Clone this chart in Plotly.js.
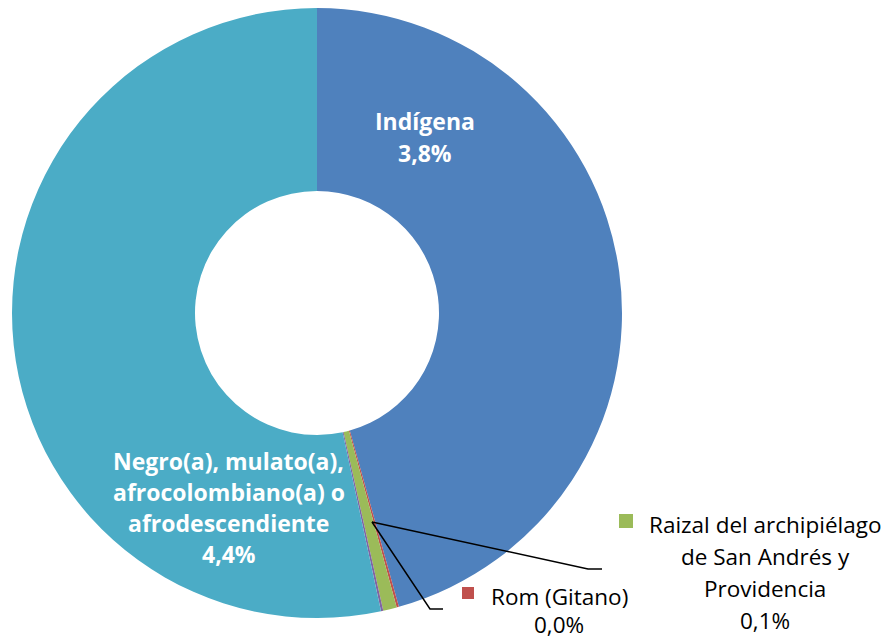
<!DOCTYPE html>
<html>
<head>
<meta charset="utf-8">
<script src="https://cdn.plot.ly/plotly-3.0.1.min.js"></script>
<style>html,body{margin:0;padding:0;background:#fff;}#chart{width:888px;height:639px;}</style>
</head>
<body>
<div id="chart"></div>
<script>
// Data (percent of population), clockwise from 12 o'clock
var categories = ["Indígena", "Rom (Gitano)", "Raizal del archipiélago de San Andrés y Providencia", "Palenquero de San Basilio", "Negro(a), mulato(a), afrocolombiano(a) o afrodescendiente"];
var values = [3.8, 0.01, 0.06, 0.01, 4.44];
var valueLabels = ["3,8%", "0,0%", "0,1%", "0,0%", "4,4%"];
var colors = ["#4F81BD", "#C0504D", "#9BBB59", "#8064A2", "#4BACC6"];

var W = 888, H = 639;
function X(p){ return p / W; }
function Y(p){ return 1 - p / H; }

var font = "'Open Sans', 'Noto Sans', sans-serif";

var trace = {
  type: "pie",
  labels: categories,
  values: values,
  sort: false,
  direction: "clockwise",
  rotation: 0,
  hole: 0.4,
  textinfo: "none",
  hoverinfo: "label+percent",
  marker: { colors: colors, line: { width: 0 } },
  domain: { x: [X(12), X(622)], y: [Y(618), Y(8)] },
  showlegend: false
};

function ann(text, px, py, opts) {
  opts = opts || {};
  return {
    text: text, xref: "paper", yref: "paper", x: X(px), y: Y(py),
    xanchor: opts.xanchor || "center", yanchor: "middle", showarrow: false,
    font: { family: font, size: opts.size || 22.5, color: opts.color || "#000000", weight: opts.bold ? 700 : 400 }
  };
}

var B = {color: "#FFFFFF", bold: true, size: 23};
var annotations = [
  ann("<b>" + categories[0] + "</b>", 425, 121, B),
  ann("<b>" + valueLabels[0] + "</b>", 425, 153, B),
  ann("<b>Negro(a), mulato(a),</b>", 229, 461, B),
  ann("<b>afrocolombiano(a) o</b>", 229, 492, B),
  ann("<b>afrodescendiente</b>", 229, 523, B),
  ann("<b>" + valueLabels[4] + "</b>", 229, 554, B),
  ann("Rom (Gitano)", 489, 596, {xanchor: "left"}),
  ann(valueLabels[1], 559, 624),
  ann("Raizal del archipiélago", 647, 524, {xanchor: "left"}),
  ann("de San Andrés y", 765, 556),
  ann("Providencia", 765, 588),
  ann(valueLabels[2], 765, 620)
];

var shapes = [
  // leader lines
  { type: "path", xref: "paper", yref: "paper",
    path: "M " + X(372) + " " + Y(522) + " L " + X(588) + " " + Y(569) + " L " + X(602) + " " + Y(569),
    line: { color: "#000000", width: 1.5 } },
  { type: "path", xref: "paper", yref: "paper",
    path: "M " + X(372) + " " + Y(522) + " L " + X(430) + " " + Y(609) + " L " + X(443) + " " + Y(609),
    line: { color: "#000000", width: 1.5 } },
  // legend-like squares
  { type: "rect", xref: "paper", yref: "paper", x0: X(462), x1: X(474), y0: Y(599), y1: Y(587),
    fillcolor: colors[1], line: { width: 0 } },
  { type: "rect", xref: "paper", yref: "paper", x0: X(619), x1: X(633), y0: Y(528), y1: Y(514),
    fillcolor: colors[2], line: { width: 0 } }
];

var layout = {
  width: W, height: H,
  margin: { l: 0, r: 0, t: 0, b: 0, pad: 0 },
  paper_bgcolor: "#FFFFFF",
  showlegend: false,
  annotations: annotations,
  shapes: shapes
};

Plotly.newPlot("chart", [trace], layout, { displayModeBar: false, staticPlot: true });
</script>
</body>
</html>
